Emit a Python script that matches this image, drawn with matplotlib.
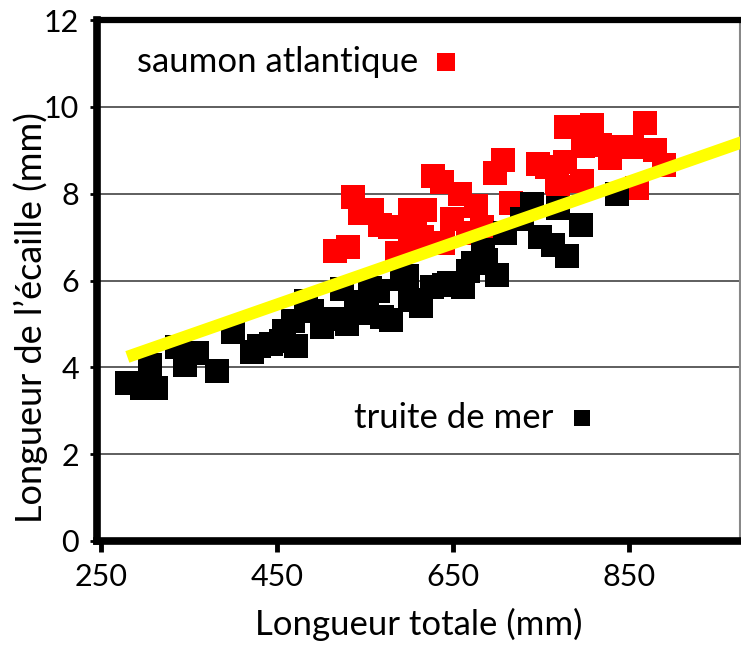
import matplotlib.pyplot as plt

plt.rcParams['font.family'] = ['Lato', 'DejaVu Sans']

# truite de mer (noir)
truite_x = [279.5, 296.6, 313, 305.7, 336, 359, 345, 382, 400, 421.6, 430, 443, 455, 458, 471.6, 483,
            468, 490, 501, 516, 524, 530, 540, 552, 555.7, 565, 569, 580, 592, 598, 601, 613.6, 626,
            640, 645, 661, 667, 673, 684, 688, 700, 709, 728, 740, 749, 763.6, 769, 779.5, 795, 836]
truite_y = [3.64, 3.53, 3.53, 4.06, 4.47, 4.33, 4.06, 3.92, 4.82, 4.35, 4.5, 4.54, 4.6, 4.84, 4.49, 5.53,
            5.07, 5.3, 4.93, 5.11, 5.81, 5.0, 5.5, 5.25, 5.83, 5.75, 5.16, 5.09, 6.04, 6.1, 5.55, 5.41, 5.85,
            5.9, 5.95, 5.85, 6.22, 6.4, 6.7, 6.47, 6.13, 7.1, 7.42, 7.76, 7.0, 6.82, 7.67, 6.57, 7.28, 8.0]

# saumon atlantique (rouge)
saumon_x = [516, 531, 536, 544, 558, 567, 578, 586, 601, 601, 605, 607, 606, 618, 615, 627, 637,
            639, 649, 658, 667, 676, 683, 698, 707, 716, 747, 757, 768, 769, 777, 778, 789, 797,
            798, 808, 817, 828, 828, 853, 859, 868, 880, 890]
saumon_y = [6.68, 6.77, 7.93, 7.56, 7.63, 7.28, 7.23, 6.64, 7.63, 7.1, 6.85, 7.17, 7.42, 7.63, 7.0,
            8.41, 8.27, 6.87, 7.42, 8.0, 7.1, 7.72, 7.23, 8.48, 8.78, 7.79, 8.69, 8.62, 8.27, 8.15,
            8.73, 9.54, 9.54, 8.29, 9.1, 9.58, 9.12, 9.08, 8.82, 9.08, 8.14, 9.63, 9.0, 8.66]

# droite de tendance
ligne_x = [280, 1000]
ligne_y = [4.24, 9.34]

fig = plt.figure(figsize=(7.41, 6.45), dpi=100)
ax = fig.add_axes([97/741, 1-541/645, 643/741, 521/645])

ax.plot(saumon_x, saumon_y, 's', color='#FF0000', markersize=17, markeredgewidth=0, zorder=3)
ax.plot(truite_x, truite_y, 's', color='black', markersize=17, markeredgewidth=0, zorder=4)
ax.plot(ligne_x, ligne_y, color='#FFFF00', linewidth=8.8, solid_capstyle='butt', zorder=5)

ax.set_xlim(245.5, 976)
ax.set_ylim(0, 12)
ax.set_xticks([250, 450, 650, 850])
ax.set_yticks([0, 2, 4, 6, 8, 10, 12])
ax.grid(axis='y', color='#333333', linewidth=1.1, zorder=1)
ax.set_axisbelow(True)

for s in ['left', 'bottom', 'top']:
    ax.spines[s].set_linewidth(5.5)
    ax.spines[s].set_color('black')
ax.spines['top'].set_linewidth(4.5)
ax.spines['right'].set_linewidth(1.5)
ax.spines['right'].set_color('#888888')

ax.tick_params(axis='x', length=8, width=3.5, pad=8, labelsize=22, direction='out')
ax.tick_params(axis='y', length=5, width=2, pad=8, labelsize=22, direction='out')

ax.set_xlabel('Longueur totale (mm)', fontsize=25, labelpad=12)
ax.set_ylabel('Longueur de l’écaille (mm)', fontsize=26)
ax.yaxis.set_label_coords(-0.076, 0.428)

ax.text(0.062, 0.919, 'saumon atlantique', transform=ax.transAxes, fontsize=25, va='center', ha='left')
ax.plot([0.543], [0.919], 's', color='#FF0000', markersize=13, markeredgewidth=0, transform=ax.transAxes)
ax.text(0.400, 0.236, 'truite de mer', transform=ax.transAxes, fontsize=25, va='center', ha='left')
ax.plot([0.754], [0.236], 's', color='black', markersize=12, markeredgewidth=0, transform=ax.transAxes)

fig.savefig('out.png', dpi=100)
